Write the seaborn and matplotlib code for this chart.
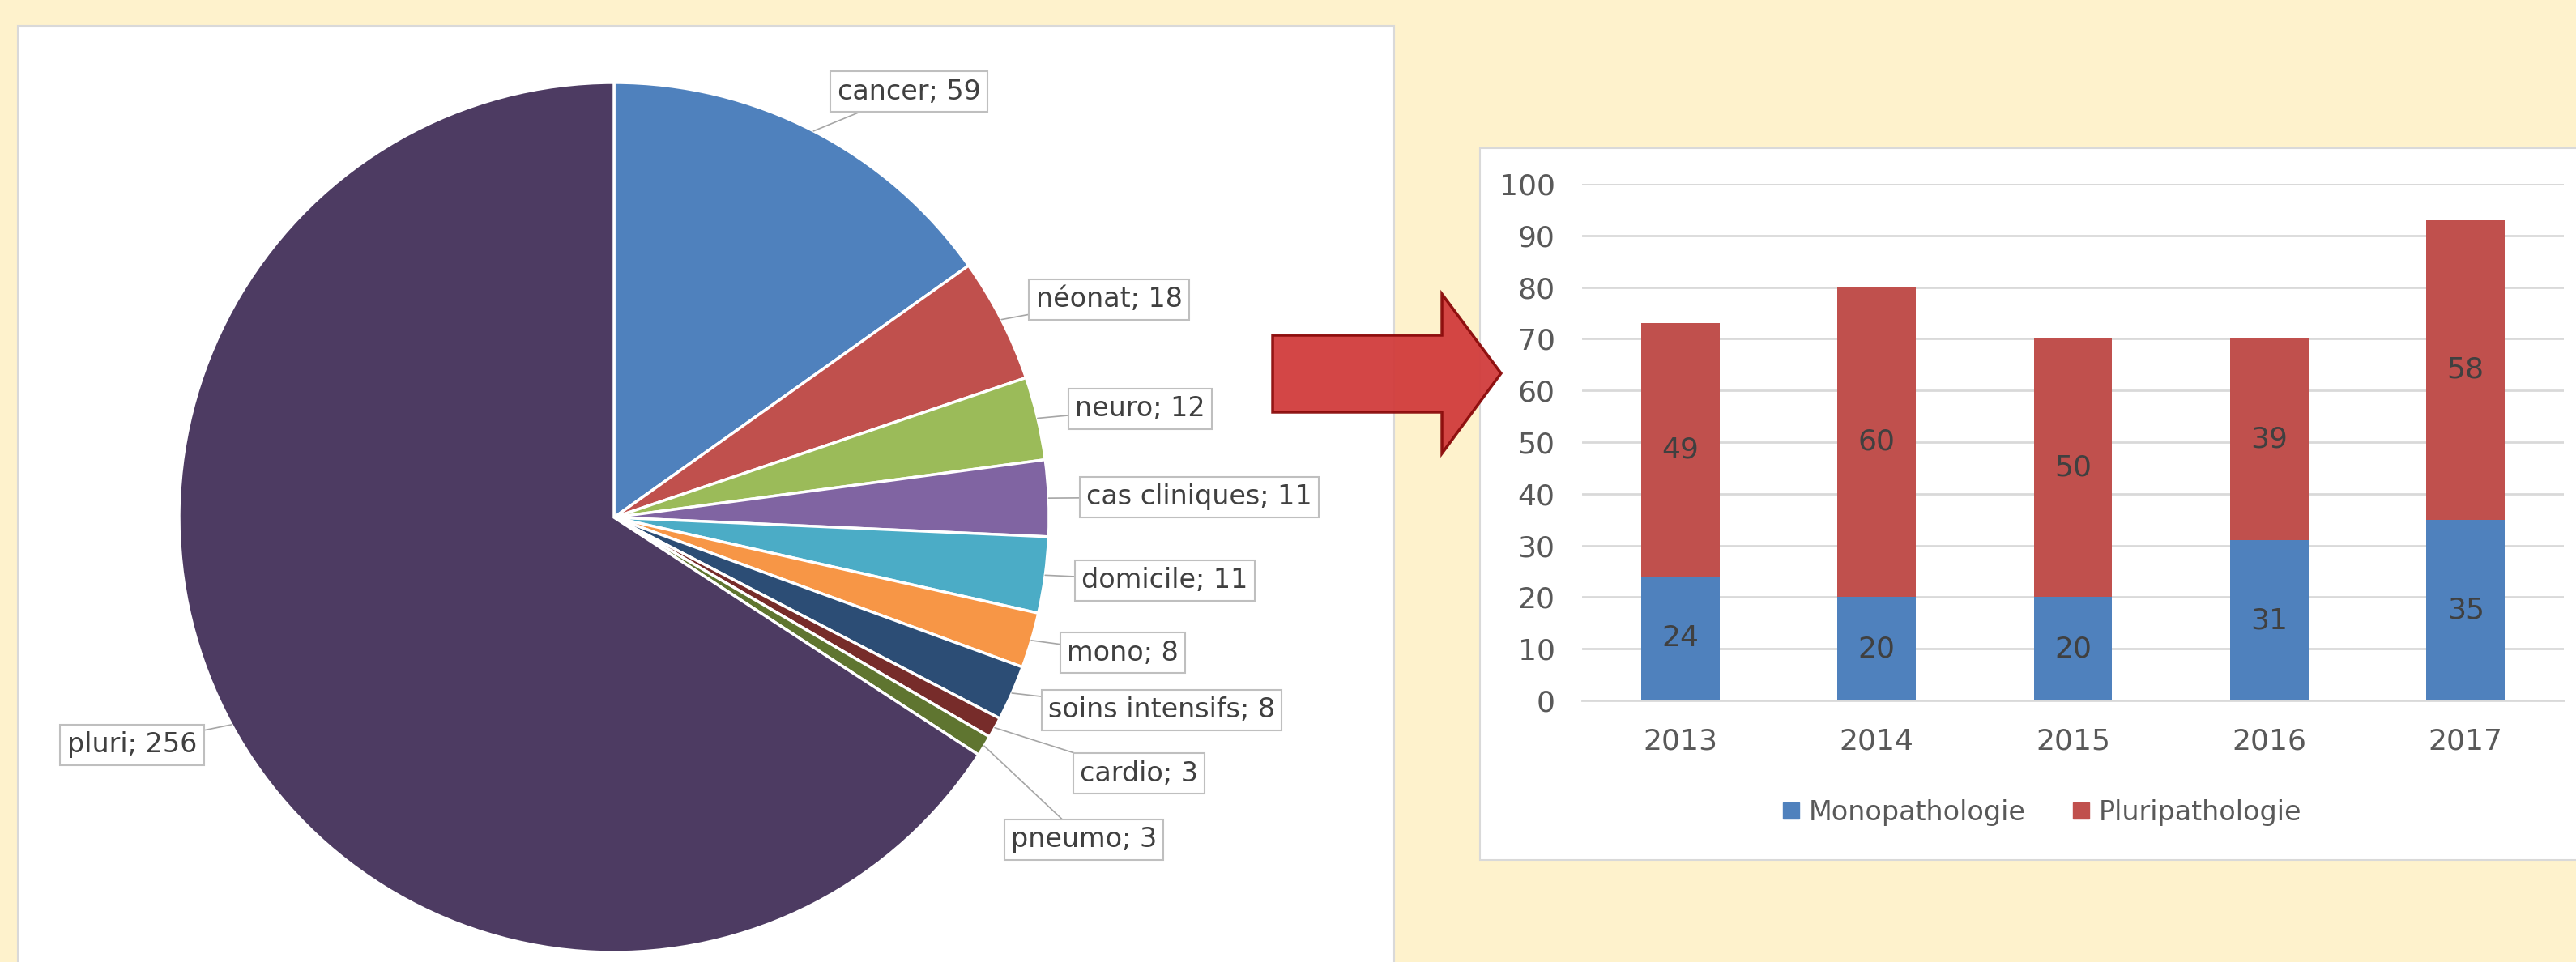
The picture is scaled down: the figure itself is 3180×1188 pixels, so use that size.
import numpy as np
import pandas as pd
import seaborn as sns
import matplotlib.pyplot as plt
from matplotlib.patches import Rectangle, Polygon
from matplotlib.lines import Line2D

# pie data (clockwise from 12 o'clock)
pie_labels = ['cancer', 'néonat', 'neuro', 'cas cliniques', 'domicile',
              'mono', 'soins intensifs', 'cardio', 'pneumo', 'pluri']
pie_values = [59, 18, 12, 11, 11, 8, 8, 3, 3, 256]
pie_colors = ['#4F81BD', '#C0504D', '#9BBB59', '#8064A2', '#4BACC6',
              '#F79646', '#2C4D75', '#772C2A', '#5F7530', '#4D3B62']

# stacked bar data
years = ['2013', '2014', '2015', '2016', '2017']
mono = [24, 20, 20, 31, 35]
pluri = [49, 60, 50, 39, 58]

# label box centres, in pie radius units (layout only)
label_pos = [(0.678, 0.979), (1.138, 0.501), (1.209, 0.250), (1.345, 0.047),
             (1.266, -0.145), (1.169, -0.311), (1.259, -0.443), (1.207, -0.589),
             (1.080, -0.741), (-1.108, -0.523)]

W, H = 3180, 1188
TXT = '#404040'
GRID = '#D9D9D9'

sns.set_style('white')
plt.rcParams['font.family'] = ['DejaVu Sans']

fig = plt.figure(figsize=(W / 100, H / 100), dpi=100)
fig.patch.set_facecolor('#FEF2CC')


def px_rect(x0, y0, x1, y1):
    # pixel box (top-left origin) -> figure fraction [l, b, w, h]
    return [x0 / W, 1 - y1 / H, (x1 - x0) / W, (y1 - y0) / H]


# white panels behind both charts
for x0, y0, x1, y1 in [(22, 32, 1721, 1200), (1827, 183, 3200, 1062)]:
    l, b, w, h = px_rect(x0, y0, x1, y1)
    fig.patches.append(Rectangle((l, b), w, h, transform=fig.transFigure,
                                 facecolor='white', edgecolor=GRID, lw=1.5, zorder=-5))

# ---- pie ----
axp = fig.add_axes(px_rect(22, 32, 1721, 1188))
wedges, _ = axp.pie(pie_values, colors=pie_colors, startangle=90, counterclock=False,
                    wedgeprops=dict(edgecolor='white', linewidth=2.5))
axp.set_aspect('auto')
axp.set_xlim((22 - 758) / 537, (1721 - 758) / 537)
axp.set_ylim((639 - 1188) / 537, (639 - 32) / 537)
axp.set_facecolor('none')
axp.axis('off')

for wdg, lab, val, pos in zip(wedges, pie_labels, pie_values, label_pos):
    mid = np.deg2rad((wdg.theta1 + wdg.theta2) / 2)
    axp.annotate(f'{lab}; {val}', xy=(np.cos(mid), np.sin(mid)), xytext=pos,
                 ha='center', va='center', fontsize=24, color=TXT,
                 bbox=dict(boxstyle='square,pad=0.25', fc='white', ec='#BFBFBF', lw=1.5),
                 arrowprops=dict(arrowstyle='-', color='#A6A6A6', lw=1.2,
                                 shrinkA=0, shrinkB=0))

# ---- stacked bars ----
df = pd.DataFrame({'year': years, 'mono': mono, 'pluri': pluri})
df['total'] = df['mono'] + df['pluri']

axb = fig.add_axes(px_rect(1953, 227, 3165, 865))
axb.set_facecolor('none')
sns.barplot(data=df, x='year', y='total', color='#C0504D', width=0.4,
            saturation=1, errorbar=None, linewidth=0, ax=axb)
sns.barplot(data=df, x='year', y='mono', color='#4F81BD', width=0.4,
            saturation=1, errorbar=None, linewidth=0, ax=axb)

for i, row in df.iterrows():
    axb.text(i, row['mono'] / 2, str(row['mono']), ha='center', va='center',
             fontsize=26, color=TXT)
    axb.text(i, row['mono'] + row['pluri'] / 2, str(row['pluri']), ha='center',
             va='center', fontsize=26, color=TXT)

axb.set_xlim(-0.5, 4.5)
axb.set_ylim(0, 100)
axb.set_yticks(range(0, 101, 10))
axb.set_xlabel('')
axb.set_ylabel('')
axb.yaxis.grid(True, color=GRID, lw=2)
axb.set_axisbelow(True)
for s in ['top', 'right', 'left']:
    axb.spines[s].set_visible(False)
axb.spines['bottom'].set_color(GRID)
axb.spines['bottom'].set_linewidth(2)
axb.tick_params(axis='y', length=0, pad=24, labelsize=26, labelcolor='#595959')
axb.tick_params(axis='x', length=0, pad=24, labelsize=26, labelcolor='#595959')

handles = [Line2D([], [], marker='s', ls='', markersize=15, color='#4F81BD'),
           Line2D([], [], marker='s', ls='', markersize=15, color='#C0504D')]
fig.legend(handles, ['Monopathologie', 'Pluripathologie'], loc='center',
           bbox_to_anchor=(2520 / W, 1 - 1003 / H), ncol=2, frameon=False,
           fontsize=24, labelcolor='#595959', handlelength=0.7, handletextpad=0.3,
           columnspacing=1.7)

# ---- red block arrow between the two panels ----
pts = [(1571, 414), (1780, 414), (1780, 363), (1853, 461), (1780, 560), (1780, 509), (1571, 509)]
arrow = Polygon([(x / W, 1 - y / H) for x, y in pts], closed=True, transform=fig.transFigure,
                facecolor='#D13C3C', edgecolor='#8B0A0A', lw=2.5, alpha=0.95, zorder=10)
fig.patches.append(arrow)

fig.savefig('out.png', dpi=100, facecolor=fig.get_facecolor())
